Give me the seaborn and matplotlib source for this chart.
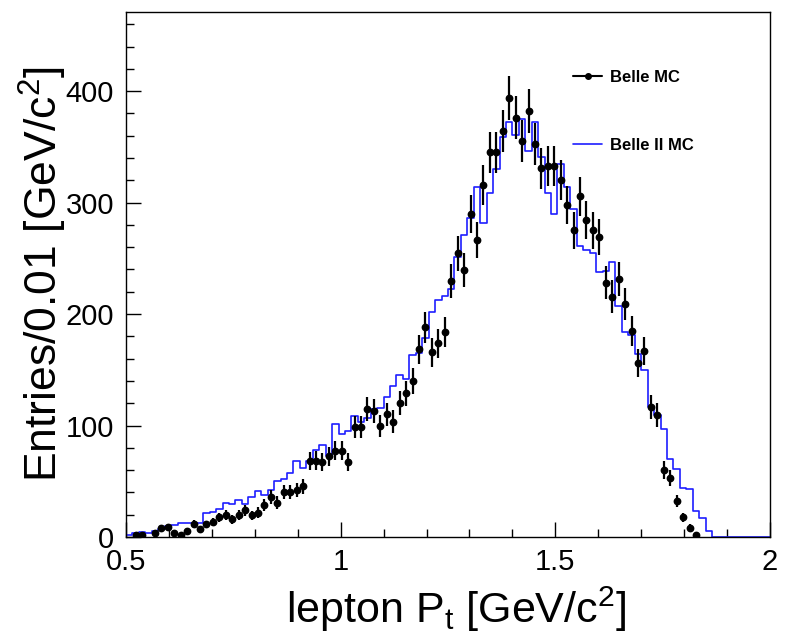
import numpy as np
import pandas as pd
import matplotlib
matplotlib.use("Agg")
import matplotlib.pyplot as plt
from matplotlib.lines import Line2D
from matplotlib.ticker import MultipleLocator
import seaborn as sns

# ---------------- data ----------------
x_min, x_max, n_bins = 0.5, 2.0, 100

belle_mc = [
    0.0, 1.8, 1.5, 0.0, 3.9, 7.8, 9.0, 3.9, 1.5, 5.4,
    11.7, 7.2, 11.4, 13.7, 17.7, 19.7, 16.1, 19.5, 24.2, 19.3,
    21.8, 28.7, 36.0, 30.8, 40.6, 40.6, 42.0, 45.5, 68.0, 68.5,
    67.0, 72.5, 77.5, 77.5, 67.5, 99.0, 98.4, 114.5, 113.0, 99.8,
    110.0, 103.4, 120.4, 128.9, 139.9, 168.3, 188.0, 165.6, 173.7, 183.6,
    230.0, 254.4, 239.5, 289.7, 266.4, 315.7, 345.0, 345.0, 364.4, 393.5,
    376.1, 355.2, 382.3, 352.5, 330.7, 332.7, 332.7, 320.0, 297.8, 275.3,
    305.8, 284.3, 275.0, 269.0, 228.2, 215.5, 231.7, 209.0, 184.8, 155.8,
    166.8, 116.9, 109.4, 60.0, 53.2, 32.3, 17.7, 8.5, 1.8, 0.0,
    0.0, 0.0, 0.0, 0.0, 0.0, 0.0, 0.0, 0.0, 0.0, 0.0,
]

belle2_mc = [
    1.5, 4.0, 4.5, 3.5, 5.5, 7.0, 9.5, 11.0, 13.0, 13.0,
    13.0, 13.0, 21.5, 22.0, 25.5, 30.5, 29.5, 33.5, 29.6, 35.6,
    41.3, 37.5, 42.0, 50.3, 52.0, 57.1, 68.3, 62.0, 68.6, 78.3,
    82.8, 73.0, 101.5, 92.4, 95.2, 108.8, 102.9, 106.4, 114.5, 116.0,
    125.8, 135.4, 145.0, 141.4, 163.0, 165.3, 178.7, 202.0, 212.6, 216.5,
    222.2, 251.0, 270.9, 285.8, 314.2, 281.3, 308.2, 330.0, 358.5, 372.5,
    360.5, 374.6, 346.5, 372.5, 341.0, 308.2, 290.0, 334.5, 314.2, 294.5,
    260.7, 257.7, 254.5, 238.0, 239.0, 246.3, 207.5, 184.1, 181.2, 164.1,
    149.5, 116.9, 109.5, 96.9, 70.0, 60.7, 44.2, 43.3, 23.0, 17.0,
    5.0, 0.0, 0.0, 0.0, 0.0, 0.0, 0.0, 0.0, 0.0, 0.0,
]

series_labels = ["Belle MC", "Belle II MC"]
x_ticks = [0.5, 1.0, 1.5, 2.0]
x_tick_labels = ["0.5", "1", "1.5", "2"]
y_ticks = [0, 100, 200, 300, 400]
y_tick_labels = ["0", "100", "200", "300", "400"]
y_max = 471
x_title = r"lepton P$_{\mathrm{t}}$ [GeV/c$^{2}$]"
y_title = r"Entries/0.01 [GeV/c$^{2}$]"

# ---------------- style ----------------
sns.set_theme(style="ticks")
plt.rcParams["font.family"] = ["Liberation Sans", "DejaVu Sans"]
plt.rcParams["mathtext.fontset"] = "custom"
plt.rcParams["mathtext.rm"] = "Liberation Sans"
plt.rcParams["mathtext.it"] = "Liberation Sans:italic"
plt.rcParams["mathtext.bf"] = "Liberation Sans:bold"
for k in ["text.color", "axes.labelcolor", "xtick.color", "ytick.color", "axes.edgecolor"]:
    plt.rcParams[k] = "black"

bin_width = (x_max - x_min) / n_bins
centers = x_min + bin_width * (np.arange(n_bins) + 0.5)
df = pd.DataFrame({"pt": centers, "belle": belle_mc, "belle2": belle2_mc})

fig = plt.figure(figsize=(7.86, 6.4), dpi=100)
ax = fig.add_axes([126 / 786, 1 - 537 / 640, 644 / 786, 525 / 640])

blue = "#1e1eff"
sns.histplot(data=df, x="pt", weights="belle2", binwidth=bin_width,
             binrange=(x_min, x_max), element="step",
             fill=False, color=blue, linewidth=1.2, ax=ax)

pts = df[df["belle"] > 0]
ax.errorbar(pts["pt"], pts["belle"], yerr=np.sqrt(pts["belle"]), fmt="o",
            color="black", ms=4.6, elinewidth=1.6, capsize=0, zorder=3)

ax.set_xlim(x_min, x_max)
ax.set_ylim(0, y_max)
ax.set_xticks(x_ticks)
ax.set_xticklabels(x_tick_labels)
ax.set_yticks(y_ticks)
ax.set_yticklabels(y_tick_labels, va="center_baseline")
ax.xaxis.set_minor_locator(MultipleLocator(0.1))
ax.yaxis.set_minor_locator(MultipleLocator(20))
ax.tick_params(which="both", direction="in", top=False, right=False, width=1.0)
ax.tick_params(which="major", length=10.5)
ax.tick_params(which="minor", length=5.5)
ax.tick_params(axis="x", which="major", labelsize=21, pad=8)
ax.tick_params(axis="y", which="major", labelsize=21, pad=8.5)
for s in ax.spines.values():
    s.set_visible(True)
    s.set_linewidth(1.0)
    s.set_color("black")

ax.set_xlabel(x_title, fontsize=31)
ax.set_ylabel(y_title, fontsize=32)
ax.xaxis.set_label_coords(0.512, -0.09)
ax.yaxis.set_label_coords(-0.088, 0.5)

handles = [
    Line2D([], [], color="black", marker="o", ms=4, lw=1.5),
    Line2D([], [], color=blue, lw=1.2),
]
ax.legend(handles, series_labels, loc="upper left", bbox_to_anchor=(0.694, 0.889),
          frameon=False, prop={"weight": "bold", "size": 12}, handlelength=1.75,
          handletextpad=0.45, labelspacing=3.15, borderpad=0, borderaxespad=0)

fig.savefig("out.png", dpi=100)
